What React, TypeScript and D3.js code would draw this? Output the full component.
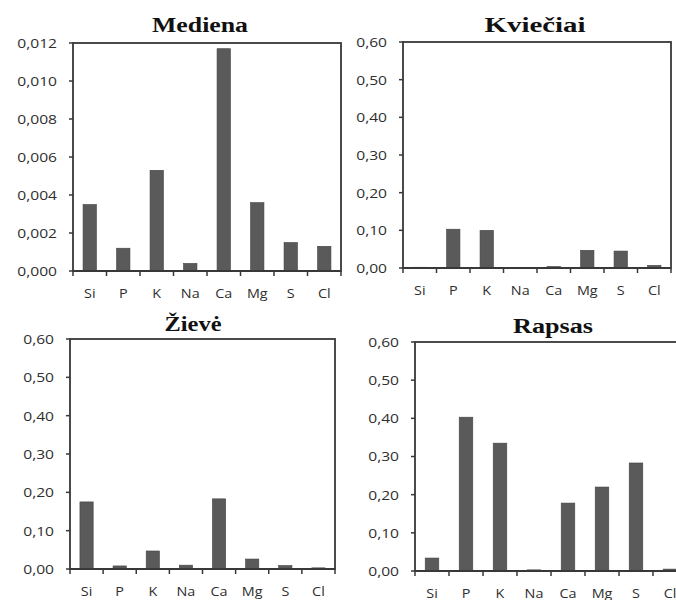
import React from "react";
import * as d3 from "d3";

// Element categories shared by all four panels
const categories = ["Si", "P", "K", "Na", "Ca", "Mg", "S", "Cl"];

// Panel titles
const titles = ["Mediena", "Kviečiai", "Žievė", "Rapsas"];

// Series values per material
const medienaValues = [0.0035, 0.0012, 0.0053, 0.0004, 0.0117, 0.0036, 0.0015, 0.0013];
const kvieciaiValues = [0.002, 0.103, 0.1, 0.001, 0.004, 0.047, 0.045, 0.007];
const zieveValues = [0.175, 0.008, 0.047, 0.01, 0.183, 0.026, 0.009, 0.003];
const rapsasValues = [0.034, 0.403, 0.335, 0.003, 0.178, 0.22, 0.283, 0.005];

// Y tick values
const medienaTicks = [0, 0.002, 0.004, 0.006, 0.008, 0.01, 0.012];
const shareTicks = [0, 0.1, 0.2, 0.3, 0.4, 0.5, 0.6];

const ltLocale = d3.formatLocale({
  decimal: ",",
  thousands: " ",
  grouping: [3],
  currency: ["", " €"],
});
const fmt3 = ltLocale.format(".3f");
const fmt2 = ltLocale.format(".2f");

type PanelLayout = {
  left: number;
  right: number;
  top: number;
  bottom: number;
  titleX: number;
  titleY: number;
  titleWidth: number;
};

const panels = [
  {
    title: titles[0],
    values: medienaValues,
    ticks: medienaTicks,
    fmt: fmt3,
    layout: { left: 73, right: 341, top: 43, bottom: 271, titleX: 200, titleY: 32, titleWidth: 96 } as PanelLayout,
  },
  {
    title: titles[1],
    values: kvieciaiValues,
    ticks: shareTicks,
    fmt: fmt2,
    layout: { left: 403, right: 671, top: 42, bottom: 268, titleX: 535, titleY: 32, titleWidth: 101 } as PanelLayout,
  },
  {
    title: titles[2],
    values: zieveValues,
    ticks: shareTicks,
    fmt: fmt2,
    layout: { left: 70, right: 335, top: 339, bottom: 569, titleX: 193, titleY: 331, titleWidth: 57 } as PanelLayout,
  },
  {
    title: titles[3],
    values: rapsasValues,
    ticks: shareTicks,
    fmt: fmt2,
    layout: { left: 415, right: 687, top: 342, bottom: 571, titleX: 553, titleY: 333, titleWidth: 80 } as PanelLayout,
  },
];

const AXIS = "#383838";
const BAR = "#5a5a5a";
const TEXT = "#2e2e2e";
const SANS = "'Open Sans', 'DejaVu Sans', sans-serif";
const SERIF = "'Liberation Serif', 'DejaVu Serif', serif";

function Panel({ title, values, ticks, fmt, layout }: any) {
  const { left, right, top, bottom, titleX, titleY, titleWidth } = layout as PanelLayout;
  const x = d3
    .scaleBand<string>()
    .domain(categories)
    .range([left, right])
    .paddingInner(0.6)
    .paddingOuter(0.3);
  const y = d3
    .scaleLinear()
    .domain([0, ticks[ticks.length - 1]])
    .range([bottom, top]);
  const step = x.step();
  const bw = x.bandwidth();
  const boundaries = categories.map((c) => (x(c) as number) + bw / 2 - step / 2);
  boundaries.push(right);

  return (
    <g>
      {/* bars */}
      {values.map((v: number, i: number) => (
        <rect
          key={categories[i]}
          x={x(categories[i])}
          y={y(v)}
          width={bw}
          height={Math.max(0, bottom - y(v))}
          fill={BAR}
          stroke="#444"
          strokeWidth={0.6}
        />
      ))}
      {/* frame */}
      <rect
        x={left}
        y={top}
        width={right - left}
        height={bottom - top}
        fill="none"
        stroke={AXIS}
        strokeWidth={1.8}
      />
      {/* y ticks and labels */}
      {ticks.map((t: number) => (
        <g key={t}>
          <line x1={left - 4} x2={left} y1={y(t)} y2={y(t)} stroke={AXIS} strokeWidth={1.5} />
          <text
            transform={`translate(${left - 16},${y(t)}) scale(1.2,1)`}
            textAnchor="end"
            dominantBaseline="central"
            fontFamily={SANS}
            fontSize={13}
            fontWeight={500}
            fill={TEXT}
          >
            {fmt(t)}
          </text>
        </g>
      ))}
      {/* x category separators */}
      {boundaries.map((b, i) => (
        <line key={i} x1={b} x2={b} y1={bottom} y2={bottom + 5} stroke={AXIS} strokeWidth={1.5} />
      ))}
      {/* x axis line */}
      <line x1={left} x2={right} y1={bottom} y2={bottom} stroke={AXIS} strokeWidth={2} />
      {/* category labels */}
      {categories.map((c) => (
        <text
          key={c}
          transform={`translate(${(x(c) as number) + bw / 2},${bottom + 22}) scale(1.15,1)`}
          textAnchor="middle"
          dominantBaseline="central"
          fontFamily={SANS}
          fontSize={12.5}
          fontWeight={500}
          fill={TEXT}
        >
          {c}
        </text>
      ))}
      {/* title */}
      <text
        x={titleX - titleWidth / 2}
        y={titleY}
        textLength={titleWidth}
        lengthAdjust="spacingAndGlyphs"
        fontFamily={SERIF}
        fontWeight="bold"
        fontSize={20}
        fill="#111"
      >
        {title}
      </text>
    </g>
  );
}

export default function App() {
  return (
    <svg
      width={676}
      height={600}
      viewBox="0 0 676 600"
      style={{ position: "absolute", left: 0, top: 0, background: "#fff", display: "block" }}
    >
      <rect x={0} y={0} width={676} height={600} fill="#fff" />
      {panels.map((p) => (
        <Panel key={p.title} {...p} />
      ))}
    </svg>
  );
}
